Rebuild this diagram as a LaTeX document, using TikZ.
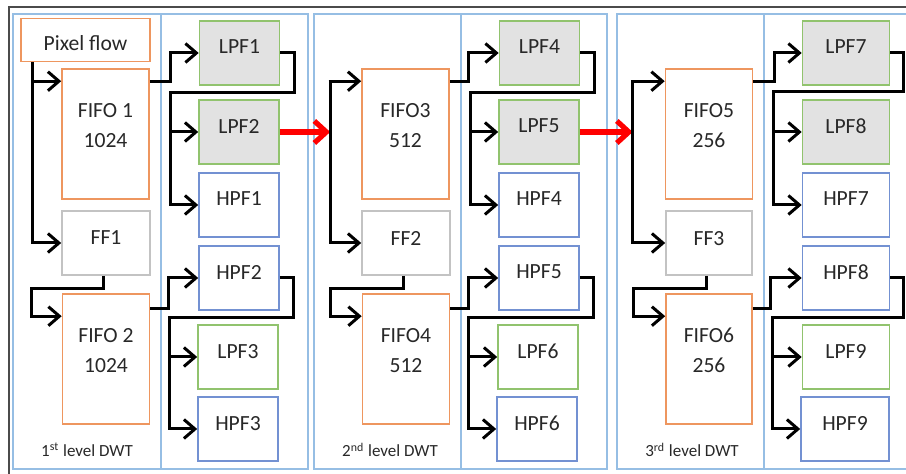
\documentclass[tikz,border=0pt]{standalone}
\usepackage{fontspec}
\setmainfont{Carlito}
\usetikzlibrary{arrows.meta}
\definecolor{orangeline}{RGB}{238,150,95}
\definecolor{greenline}{RGB}{145,195,110}
\definecolor{blueline}{RGB}{115,145,210}
\definecolor{grayline}{RGB}{195,195,195}
\definecolor{grayfill}{RGB}{226,226,226}
\definecolor{panelblue}{RGB}{150,190,228}
\definecolor{framegray}{RGB}{75,75,75}
\definecolor{textgray}{RGB}{40,40,40}
\tikzstyle{panel} = [draw=panelblue, line width=0.7pt]
\tikzstyle{source} = [rectangle, draw=orangeline, line width=0.8pt, minimum width=64.5pt, minimum height=21.5pt, text height=11pt, text centered]
\tikzstyle{fifo} = [rectangle, draw=orangeline, line width=0.8pt, minimum width=43.5pt, minimum height=65pt, align=center, text depth=9pt]
\tikzstyle{ff} = [rectangle, draw=grayline, line width=0.8pt, minimum width=44pt, minimum height=32pt, text depth=5pt, text centered]
\tikzstyle{lpf} = [rectangle, draw=greenline, line width=0.8pt, minimum width=40pt, minimum height=32pt, text depth=6pt, text centered]
\tikzstyle{lpfgray} = [lpf, fill=grayfill]
\tikzstyle{hpf} = [rectangle, draw=blueline, line width=0.8pt, minimum width=40pt, minimum height=32pt, text depth=6pt, text centered]
\tikzstyle{caption} = [draw=none, font=\fontsize{8.5}{10}\selectfont]
\tikzstyle{arrow} = [line width=1.5pt, -{Straight Barb[length=5.5pt,width=9.5pt]}]
\tikzstyle{arrow_red} = [red, line width=2.6pt, -{Straight Barb[length=6pt,width=11pt]}]

\begin{document}
\begin{tikzpicture}[x=0.5pt, y=-0.5pt, font=\fontsize{10.8}{15}\selectfont, text=textgray]
		\clip (0,0) rectangle (906,474);
		\fill [white] (0,0) rectangle (906,474);
		\draw [framegray, line width=1pt] (9,7) rectangle (912,480);
		% level panels
		\draw [panel] (13,14) rectangle (308,469);
		\draw [panel] (161,14) -- (161,469);
		\draw [panel] (314,14) rectangle (607,469);
		\draw [panel] (461,14) -- (461,469);
		\draw [panel] (617,14) rectangle (912,469);
		\draw [panel] (764,14) -- (764,469);

		% 1st level
		\node (pix) [source] at (85.5,40) {Pixel flow};
		\node (fifo1) [fifo] at (105.5,134) {FIFO 1\\1024};
		\node (ff1) [ff] at (106,243) {FF1};
		\node (fifo2) [fifo] at (106,359) {FIFO 2\\1024};
		\node (lpf1) [lpfgray] at (239.5,53) {LPF1};
		\node (lpf2) [lpfgray] at (239,132) {LPF2};
		\node (hpf1) [hpf] at (239,205) {HPF1};
		\node (hpf2) [hpf] at (239,278) {HPF2};
		\node (lpf3) [lpf] at (238,357) {LPF3};
		\node (hpf3) [hpf] at (238,429) {HPF3};
		\node (cap1) [caption] at (87,450) {1\textsuperscript{st} level DWT};

		\coordinate (j1) at ([xshift=6pt]pix.south west);
		\coordinate (in1) at ([yshift=-6.5pt]fifo1.north west);
		\coordinate (in2) at ([yshift=-11.5pt]fifo2.north west);
		\coordinate (out1) at ([yshift=-6.5pt]fifo1.north east);
		\coordinate (out2) at ([yshift=-7.5pt]fifo2.north east);
		\coordinate (b1) at ([xshift=-14pt]hpf1.west);
		\coordinate (b2) at ([xshift=-14pt]hpf3.west);
		\draw [arrow] (j1) |- (ff1.west);
		\draw [arrow] (j1 |- in1) -- (in1);
		\draw [arrow] ([xshift=-1.5pt]ff1.south) -- ++(0,13) -| ([xshift=-15pt]in2) -- (in2);
		\draw [arrow] (out1) -- ++(21,0) |- (lpf1.west);
		\draw [arrow] (lpf1.east) -- ++(14,0) -- ++(0,40) -| (b1) -- (hpf1.west);
		\draw [arrow] (b1 |- lpf2.west) -- (lpf2.west);
		\draw [arrow] (out2) -- ++(18,0) |- (hpf2.west);
		\draw [arrow] (hpf2.east) -- ++(14,0) -- ++(0,40) -| (b2) -- (hpf3.west);
		\draw [arrow] (b2 |- lpf3.west) -- (lpf3.west);

		% 2nd level
		\node (fifo3) [fifo] at (405.5,134) {FIFO3\\512};
		\node (ff2) [ff] at (406,243) {FF2};
		\node (fifo4) [fifo] at (406,359) {FIFO4\\512};
		\node (lpf4) [lpfgray] at (539.5,53) {LPF4};
		\node (lpf5) [lpfgray] at (539,132) {LPF5};
		\node (hpf4) [hpf] at (539,205) {HPF4};
		\node (hpf5) [hpf] at (539,278) {HPF5};
		\node (lpf6) [lpf] at (538,357) {LPF6};
		\node (hpf6) [hpf] at (537,429) {HPF6};
		\node (cap2) [caption] at (390,450) {2\textsuperscript{nd} level DWT};

		\coordinate (in3) at ([yshift=-6.5pt]fifo3.north west);
		\coordinate (j2) at ([xshift=-15.5pt]in3);
		\coordinate (in4) at ([yshift=-11.5pt]fifo4.north west);
		\coordinate (out3) at ([yshift=-6.5pt]fifo3.north east);
		\coordinate (out4) at ([yshift=-7.5pt]fifo4.north east);
		\coordinate (b3) at ([xshift=-14pt]hpf4.west);
		\coordinate (b4) at ([xshift=-14pt]hpf6.west);
		\draw [arrow_red] (lpf2.east) -- (j2 |- lpf2.east);
		\draw [arrow] (j2) |- (ff2.west);
		\draw [arrow] ([xshift=-0.75pt]j2) -- (in3);
		\draw [arrow] ([xshift=-1.25pt]ff2.south) -- ++(0,13) -| ([xshift=-15.5pt]in4) -- (in4);
		\draw [arrow] (out3) -- ++(19,0) |- (lpf4.west);
		\draw [arrow] (lpf4.east) -- ++(14,0) -- ++(0,40) -| (b3) -- (hpf4.west);
		\draw [arrow] (b3 |- lpf5.west) -- (lpf5.west);
		\draw [arrow] (out4) -- ++(18,0) |- (hpf5.west);
		\draw [arrow] (hpf5.east) -- ++(14,0) -- ++(0,40) -| (b4) -- (hpf6.west);
		\draw [arrow] (b4 |- lpf6.west) -- (lpf6.west);

		% 3rd level
		\node (fifo5) [fifo] at (709,134) {FIFO5\\256};
		\node (ff3) [ff, minimum width=43pt] at (709,243) {FF3};
		\node (fifo6) [fifo, minimum width=43pt] at (709,359) {FIFO6\\256};
		\node (lpf7) [lpfgray, minimum width=43.5pt] at (846,53) {LPF7};
		\node (lpf8) [lpfgray, minimum width=43.5pt] at (846,132) {LPF8};
		\node (hpf7) [hpf, minimum width=43.5pt] at (846,205) {HPF7};
		\node (hpf8) [hpf, minimum width=43.5pt] at (846,278) {HPF8};
		\node (lpf9) [lpf, minimum width=43.5pt] at (846,357) {LPF9};
		\node (hpf9) [hpf, minimum width=44pt] at (845,429) {HPF9};
		\node (cap3) [caption] at (692,450) {3\textsuperscript{rd} level DWT};

		\coordinate (in5) at ([yshift=-6.5pt]fifo5.north west);
		\coordinate (j3) at ([xshift=-16pt]in5);
		\coordinate (in6) at ([yshift=-11.5pt]fifo6.north west);
		\coordinate (out5) at ([yshift=-6.5pt]fifo5.north east);
		\coordinate (out6) at ([yshift=-7.5pt]fifo6.north east);
		\coordinate (b5) at ([xshift=-14pt]hpf7.west);
		\coordinate (b6) at ([xshift=-14pt]hpf9.west);
		\draw [arrow_red] (lpf5.east) -- (j3 |- lpf5.east);
		\draw [arrow] (j3) |- (ff3.west);
		\draw [arrow] ([xshift=-0.75pt]j3) -- (in5);
		\draw [arrow] ([xshift=-1.5pt]ff3.south) -- ++(0,13) -| ([xshift=-16pt]in6) -- (in6);
		\draw [arrow] (out5) -- ++(21,0) |- (lpf7.west);
		\draw [arrow] (lpf7.east) -- ++(13,0) -- ++(0,39) -| (b5) -- (hpf7.west);
		\draw [arrow] (b5 |- lpf8.west) -- (lpf8.west);
		\draw [arrow] (out6) -- ++(18,0) |- (hpf8.west);
		\draw [arrow] (hpf8.east) -- ++(13,0) -- ++(0,40) -| (b6) -- (hpf9.west);
		\draw [arrow] (b6 |- lpf9.west) -- (lpf9.west);
	\end{tikzpicture}
\end{document}
